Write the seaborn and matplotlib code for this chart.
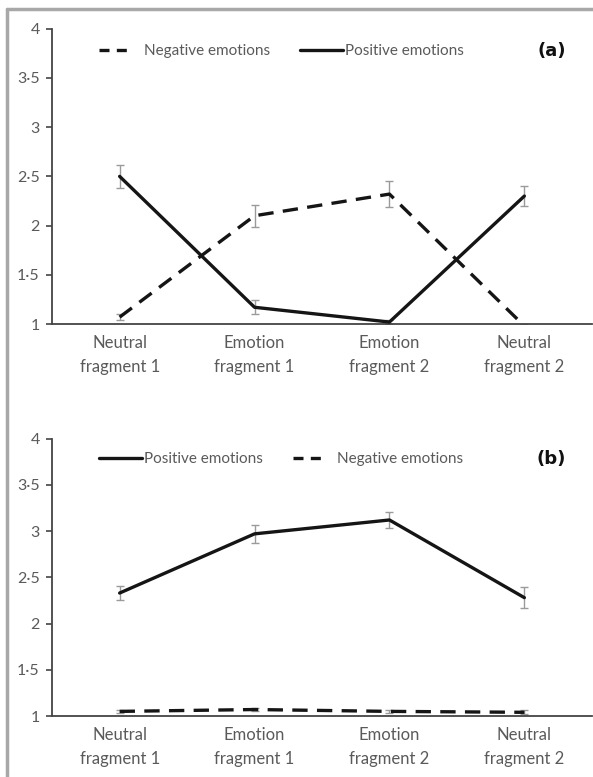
"""Emotion ratings across film fragments, two panels."""
import matplotlib

matplotlib.use("Agg")

import matplotlib.pyplot as plt
import pandas as pd
import seaborn as sns
from matplotlib.lines import Line2D
from matplotlib.ticker import FixedLocator, FuncFormatter

categories = ["Neutral\nfragment 1", "Emotion\nfragment 1", "Emotion\nfragment 2", "Neutral\nfragment 2"]

# panel (a)
pos_a = [2.50, 1.17, 1.02, 2.30]
pos_a_err = [0.12, 0.07, 0.02, 0.10]
neg_a = [1.07, 2.10, 2.32, 0.98]
neg_a_err = [0.03, 0.11, 0.13, 0.02]

# panel (b)
pos_b = [2.33, 2.97, 3.12, 2.28]
pos_b_err = [0.08, 0.10, 0.09, 0.11]
neg_b = [1.05, 1.07, 1.05, 1.04]
neg_b_err = [0.02, 0.02, 0.02, 0.02]

yticks = [1, 1.5, 2, 2.5, 3, 3.5, 4]

sns.set_style("white")
plt.rcParams["font.family"] = ["Lato", "DejaVu Sans"]

TEXT = "#5a5a5a"
INK = "#151515"
DASH = (0, (4.6, 2.8))
LW = 2.4


def draw_panel(ax, pos, pos_err, neg, neg_err, order, tag):
    df = pd.DataFrame({"fragment": categories * 2,
                       "score": pos + neg,
                       "emotion": ["Positive emotions"] * 4 + ["Negative emotions"] * 4})
    xs = list(range(len(categories)))
    ax.errorbar(xs, pos, yerr=pos_err, fmt="none", ecolor="#9a9a9a", elinewidth=1,
                capsize=3, capthick=1, zorder=1)
    ax.errorbar(xs, neg, yerr=neg_err, fmt="none", ecolor="#9a9a9a", elinewidth=1,
                capsize=3, capthick=1, zorder=1)
    sns.lineplot(data=df[df.emotion == "Positive emotions"], x="fragment", y="score",
                 ax=ax, color=INK, lw=LW, sort=False, zorder=3)
    sns.lineplot(data=df[df.emotion == "Negative emotions"], x="fragment", y="score",
                 ax=ax, color=INK, lw=LW, linestyle=DASH, sort=False, zorder=3)

    ax.set_xlim(-0.5, 3.5)
    ax.set_ylim(1, 4)
    ax.set_xlabel("")
    ax.set_ylabel("")
    ax.set_yticks(yticks)
    ax.yaxis.set_major_formatter(FuncFormatter(lambda v, _: f"{v:g}".replace(".", "·")))
    ax.set_xticks(xs)
    ax.set_xticklabels(categories, color=TEXT, fontsize=12, linespacing=1.6)
    ax.xaxis.set_minor_locator(FixedLocator([0.5, 1.5, 2.5, 3.5]))
    ax.tick_params(axis="x", which="major", length=0, pad=8)
    ax.tick_params(axis="x", which="minor", length=5, width=1.2, color="#444444", direction="inout")
    ax.tick_params(axis="y", direction="out", length=4, width=1.2, color="#444444",
                   labelcolor=TEXT, labelsize=11.5, pad=5, left=True)
    for side in ("top", "right"):
        ax.spines[side].set_visible(False)
    for side in ("left", "bottom"):
        ax.spines[side].set_color("#444444")
        ax.spines[side].set_linewidth(1.3)

    handles = {
        "Negative emotions": Line2D([], [], color=INK, lw=LW, linestyle=(0, (3.0, 2.2, 3.0, 30))),
        "Positive emotions": Line2D([], [], color=INK, lw=LW),
    }
    ax.legend([handles[k] for k in order], order, ncol=2, frameon=False,
              loc="center", bbox_to_anchor=(0.425, 0.925), handlelength=2.8,
              handletextpad=0.1, columnspacing=2.0, fontsize=11, labelcolor=TEXT)
    ax.text(0.925, 0.925, tag, transform=ax.transAxes, fontsize=13, fontweight="bold",
            color="#111111", ha="center", va="center", family="DejaVu Sans")


fig = plt.figure(figsize=(5.93, 7.77), dpi=100)
ax_a = fig.add_axes([0.088, 0.583, 0.91, 0.380])
ax_b = fig.add_axes([0.088, 0.0785, 0.91, 0.357])

draw_panel(ax_a, pos_a, pos_a_err, neg_a, neg_a_err,
           ["Negative emotions", "Positive emotions"], "(a)")
draw_panel(ax_b, pos_b, pos_b_err, neg_b, neg_b_err,
           ["Positive emotions", "Negative emotions"], "(b)")

# grey frame around the figure (left and top edges visible)
fig.add_artist(Line2D([0.012, 0.012], [0, 0.989], color="#a8a8a8", lw=2.5,
                      transform=fig.transFigure))
fig.add_artist(Line2D([0.012, 1.0], [0.989, 0.989], color="#a8a8a8", lw=2.5,
                      transform=fig.transFigure))

fig.savefig("out.png", dpi=100)
